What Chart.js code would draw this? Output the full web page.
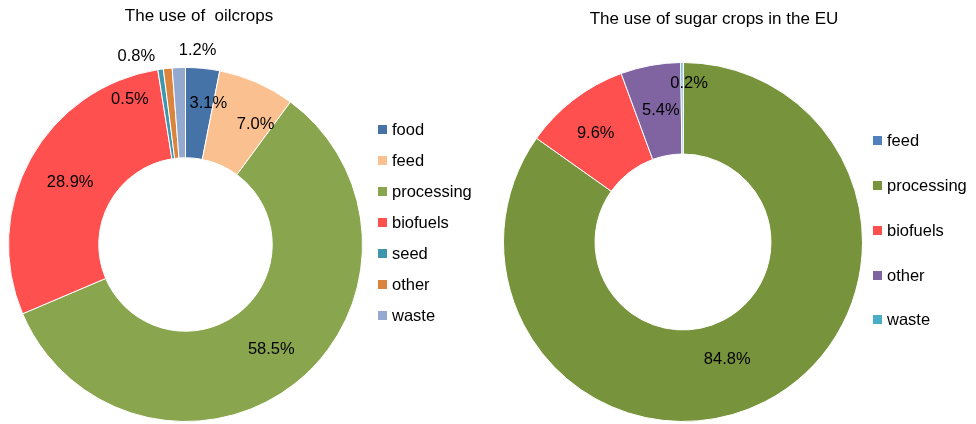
<!DOCTYPE html>
<html>
<head>
<meta charset="utf-8">
<script src="https://cdn.jsdelivr.net/npm/chart.js@4.4.1/dist/chart.umd.min.js"></script>
<style>
  html, body { margin: 0; padding: 0; background: #fff; overflow: hidden; }
  body { width: 976px; height: 424px; position: relative; font-family: "Liberation Sans", Arial, sans-serif; color: #000; }
  .panel { position: absolute; top: 0; width: 488px; height: 424px; }
  .panel canvas { position: absolute; left: 0; top: 0; }
  .title { position: absolute; font-size: 17px; line-height: 20px; text-align: center; white-space: pre; }
  .legend { position: absolute; margin: 0; padding: 0; list-style: none; font-size: 16.5px; }
  .legend li { display: flex; align-items: center; white-space: nowrap; }
  .legend .box { display: inline-block; width: 9px; height: 9px; margin-right: 5px; }
</style>
</head>
<body>
<div class="panel" style="left:0">
  <canvas id="oilChart" width="488" height="424"></canvas>
  <div class="title" style="left:0; width:398px; top:6px">The use of  oilcrops</div>
  <ul class="legend" id="oilLegend" style="left:378px; top:113.5px"></ul>
</div>
<div class="panel" style="left:488px">
  <canvas id="sugarChart" width="488" height="424"></canvas>
  <div class="title" style="left:0; width:452px; top:9px">The use of sugar crops in the EU</div>
  <ul class="legend" id="sugarLegend" style="left:385px; top:118.6px"></ul>
</div>
<script>
// oilcrops (% of use)
const oilLabels = ['food', 'feed', 'processing', 'biofuels', 'seed', 'other', 'waste'];
const oilValues = [3.1, 7.0, 58.5, 28.9, 0.5, 0.8, 1.2];
const oilColors = ['#4572A7', '#FAC08F', '#89A54E', '#FF5050', '#3D96AE', '#DB843D', '#93A9CF'];

// sugar crops in the EU (% of use), feed is a sliver with no label
const sugarLabels = ['feed', 'processing', 'biofuels', 'other', 'waste'];
const sugarValues = [0.05, 84.8, 9.6, 5.4, 0.2];
const sugarColors = ['#4F81BD', '#77933C', '#FF5050', '#8064A2', '#4BACC6'];

// nudges for the percent labels, like the hand placed ones in the original
const oilLabelShift = [[10, -10], [17, 1], [4, 2], [0, 2], [-37, -14], [-36, -57], [17, -62]];
const sugarLabelShift = [[0, 0], [-17, -1], [-6, -2], [2, 0], [7, -25]];

const sliceLabels = {
    id: 'sliceLabels',
    afterDatasetsDraw(chart, args, opts) {
        const ctx = chart.ctx;
        const values = chart.data.datasets[0].data;
        ctx.save();
        ctx.font = '16.5px "Liberation Sans", Arial, sans-serif';
        ctx.fillStyle = '#000';
        ctx.textAlign = 'center';
        ctx.textBaseline = 'middle';
        chart.getDatasetMeta(0).data.forEach((arc, i) => {
            if (values[i] < 0.1) return;
            const p = arc.tooltipPosition();
            const s = opts.shift[i] || [0, 0];
            ctx.fillText(values[i].toFixed(1) + '%', p.x + s[0], p.y + s[1]);
        });
        ctx.restore();
    }
};

function makeDoughnut(id, labels, values, colors, shift, padding) {
    const ctx = document.getElementById(id).getContext('2d');
    return new Chart(ctx, {
        type: 'doughnut',
        data: {
            labels: labels,
            datasets: [{
                data: values,
                backgroundColor: colors,
                borderColor: '#fff',
                borderWidth: 1
            }]
        },
        options: {
            responsive: false,
            animation: false,
            cutout: '49%',
            layout: { padding: padding },
            plugins: {
                legend: { display: false },
                tooltip: { enabled: false },
                sliceLabels: { shift: shift }
            }
        },
        plugins: [sliceLabels]
    });
}

function buildLegend(chart, listId, rowHeight) {
    const ul = document.getElementById(listId);
    const items = chart.options.plugins.legend.labels.generateLabels(chart);
    items.forEach(item => {
        const li = document.createElement('li');
        li.style.height = rowHeight + 'px';
        const box = document.createElement('span');
        box.className = 'box';
        box.style.background = item.fillStyle;
        li.appendChild(box);
        li.appendChild(document.createTextNode(item.text));
        ul.appendChild(li);
    });
}

const oilChart = makeDoughnut('oilChart', oilLabels, oilValues, oilColors, oilLabelShift,
    { left: 8, right: 125, top: 67, bottom: 2 });
const sugarChart = makeDoughnut('sugarChart', sugarLabels, sugarValues, sugarColors, sugarLabelShift,
    { left: 15, right: 113, top: 62, bottom: 2 });

buildLegend(oilChart, 'oilLegend', 31);
buildLegend(sugarChart, 'sugarLegend', 44.75);
</script>
</body>
</html>
